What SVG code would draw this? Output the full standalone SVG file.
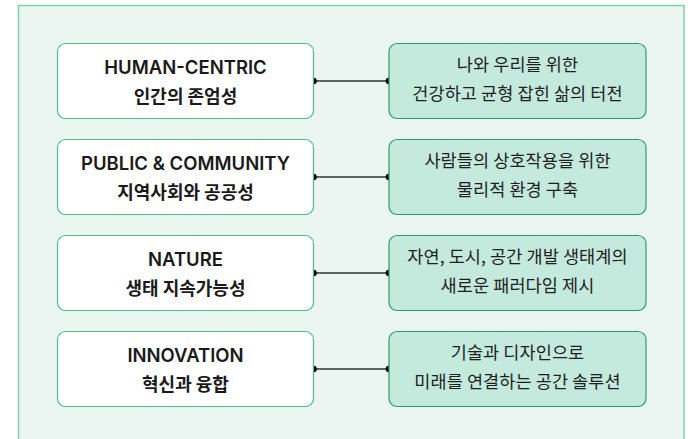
<svg xmlns="http://www.w3.org/2000/svg" width="691" height="439" viewBox="0 0 691 439">
<style>
.panel{fill:#ebf5f2;stroke:#7fd2ae;stroke-width:1.5}
.lbox{fill:#ffffff;stroke:#4cbf8c;stroke-width:1.2}
.rbox{fill:#c4e9dd;stroke:#2a9d6e;stroke-width:1.2}
.t1{font-family:Inter,"Noto Sans CJK KR",sans-serif;font-weight:600;font-size:18.5px;fill:#1a1a1a;text-anchor:middle}
.t2{font-family:"Noto Sans CJK KR",sans-serif;font-weight:700;font-size:18px;fill:#1a1a1a;text-anchor:middle}
.t3{font-family:"Noto Sans CJK KR",sans-serif;font-weight:400;font-size:17.5px;fill:#1f1f1f;text-anchor:middle;letter-spacing:0.1px}
.ln{stroke:#606662;stroke-width:2}
.dot{fill:#000}
</style>
<rect class="panel" x="18.5" y="5.5" width="665.5" height="450"/>
<g id="connectors">
<line class="ln" x1="313.5" y1="81" x2="389" y2="81"/><circle class="dot" cx="313.5" cy="81" r="3.3"/><circle class="dot" cx="389" cy="81" r="3.3"/>
<line class="ln" x1="313.5" y1="177" x2="389" y2="177"/><circle class="dot" cx="313.5" cy="177" r="3.3"/><circle class="dot" cx="389" cy="177" r="3.3"/>
<line class="ln" x1="313.5" y1="273" x2="389" y2="273"/><circle class="dot" cx="313.5" cy="273" r="3.3"/><circle class="dot" cx="389" cy="273" r="3.3"/>
<line class="ln" x1="313.5" y1="369" x2="389" y2="369"/><circle class="dot" cx="313.5" cy="369" r="3.3"/><circle class="dot" cx="389" cy="369" r="3.3"/>
</g>
<g id="human">
<rect class="lbox" x="57.5" y="43.5" width="256" height="75" rx="8"/>
<text class="t1" x="185.5" y="73.5">HUMAN-CENTRIC</text>
<text class="t2" x="185.5" y="102.5">인간의 존엄성</text>
</g>
<g id="human-desc">
<rect class="rbox" x="389" y="43.5" width="257" height="75" rx="8"/>
<text class="t3" x="517.5" y="71.2">나와 우리를 위한</text>
<text class="t3" x="517.5" y="99.9">건강하고 균형 잡힌 삶의 터전</text>
</g>
<g id="public">
<rect class="lbox" x="57.5" y="139.5" width="256" height="75" rx="8"/>
<text class="t1" x="185.5" y="169.5">PUBLIC &amp; COMMUNITY</text>
<text class="t2" x="185.5" y="198.5">지역사회와 공공성</text>
</g>
<g id="public-desc">
<rect class="rbox" x="389" y="139.5" width="257" height="75" rx="8"/>
<text class="t3" x="517.5" y="167.2">사람들의 상호작용을 위한</text>
<text class="t3" x="517.5" y="195.9">물리적 환경 구축</text>
</g>
<g id="nature">
<rect class="lbox" x="57.5" y="235.5" width="256" height="75" rx="8"/>
<text class="t1" x="185.5" y="265.5">NATURE</text>
<text class="t2" x="185.5" y="294.5">생태 지속가능성</text>
</g>
<g id="nature-desc">
<rect class="rbox" x="389" y="235.5" width="257" height="75" rx="8"/>
<text class="t3" x="517.5" y="263.2">자연, 도시, 공간 개발 생태계의</text>
<text class="t3" x="517.5" y="291.9">새로운 패러다임 제시</text>
</g>
<g id="innovation">
<rect class="lbox" x="57.5" y="331.5" width="256" height="75" rx="8"/>
<text class="t1" x="185.5" y="361.5">INNOVATION</text>
<text class="t2" x="185.5" y="390.5">혁신과 융합</text>
</g>
<g id="innovation-desc">
<rect class="rbox" x="389" y="331.5" width="257" height="75" rx="8"/>
<text class="t3" x="517.5" y="359.2">기술과 디자인으로</text>
<text class="t3" x="517.5" y="387.9">미래를 연결하는 공간 솔루션</text>
</g>
</svg>
